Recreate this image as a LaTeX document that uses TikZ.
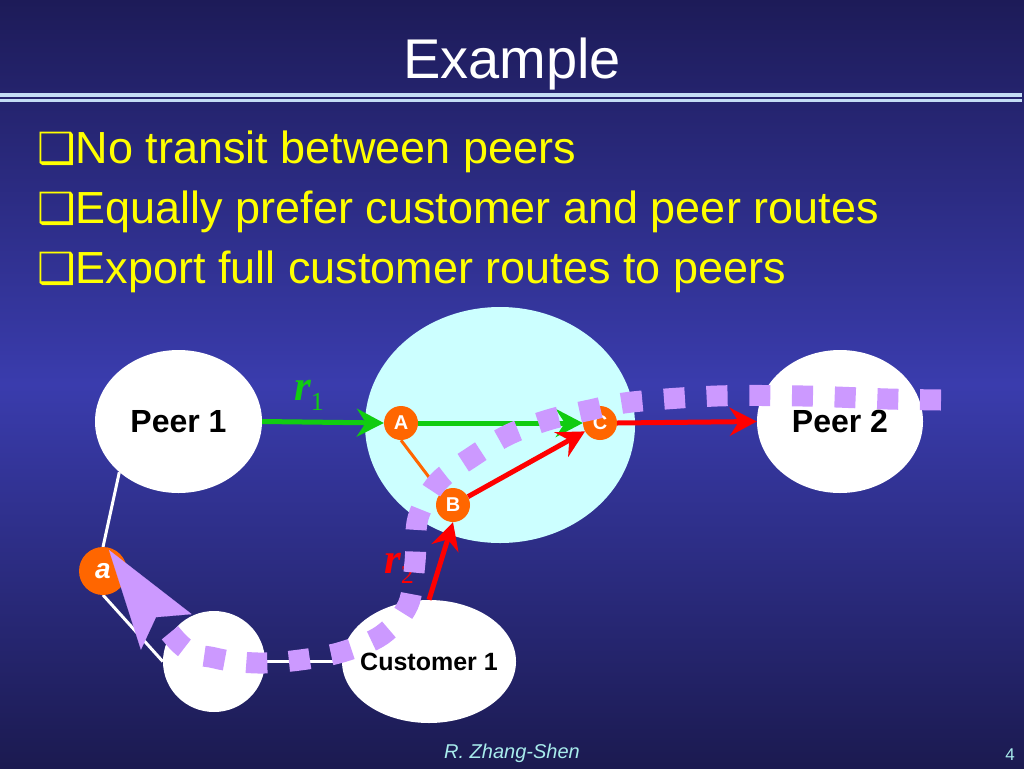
\documentclass[tikz,border=0pt]{standalone}
\usepackage{fontspec}
\setmainfont{Liberation Sans}
\newfontfamily\timesf{Liberation Serif}
\newfontfamily\dejavu{DejaVu Sans}
\usetikzlibrary{shapes.geometric,arrows.meta}
\definecolor{bgtop}{HTML}{1D1B58}
\definecolor{bgmid}{HTML}{3A3CAD}
\definecolor{bgbot}{HTML}{1B1A50}
\definecolor{rulecol}{HTML}{C4DDF5}
\definecolor{bulletyellow}{HTML}{FFFF00}
\definecolor{ascyan}{HTML}{CCFFFF}
\definecolor{nodeorange}{HTML}{FF6600}
\definecolor{routegreen}{HTML}{11CC11}
\definecolor{routered}{HTML}{FF0000}
\definecolor{pathpurple}{HTML}{CC99FF}
\definecolor{footcyan}{HTML}{A8ECEC}
\begin{document}
\begin{tikzpicture}[x=1pt,y=-1pt,
  cloudwhite/.style={ellipse, fill=white, inner sep=0pt, font=\bfseries\fontsize{32}{32}\selectfont},
  router/.style={circle, fill=nodeorange, inner sep=0pt, minimum size=34pt, text=white, font=\bfseries\fontsize{20}{20}\selectfont},
  bulletline/.style={anchor=base west, inner sep=0pt, text=bulletyellow, font=\fontsize{45}{54}\selectfont},
  greenarrow/.style={draw=routegreen, line width=5pt, -{Stealth[length=27pt,width=28pt,inset=9pt]}},
  redarrow/.style={draw=routered, line width=5pt, -{Stealth[length=27pt,width=28pt,inset=9pt]}},
  whiteline/.style={draw=white, line width=3pt},
  purplepath/.style={draw=pathpurple, line width=21pt, dash pattern=on 21pt off 21.7pt,
     -{Stealth[length=100pt,width=62pt,inset=18pt,line width=0.1pt]}}
]
\useasboundingbox (0,0) rectangle (1024,768);
\shade[top color=bgtop, bottom color=bgbot, middle color=bgmid] (0,0) rectangle (1024,768);
% title
\node[anchor=base, inner sep=0pt, text=white, font=\fontsize{56}{60}\selectfont] (title) at (512,78) {Example};
\draw[rulecol, line width=4pt] (0,95) -- (1022,95);
\draw[rulecol, line width=3pt] (0,100.5) -- (1022,100.5);
% bullets
\node[bulletline] (b1) at (37,163) {{\dejavu\fontsize{43}{43}\selectfont ❑}No transit between peers};
\node[bulletline] (b2) at (37,223) {{\dejavu\fontsize{43}{43}\selectfont ❑}Equally prefer customer and peer routes};
\node[bulletline] (b3) at (37,283) {{\dejavu\fontsize{43}{43}\selectfont ❑}Export full customer routes to peers};
% ASes
\node[ellipse, fill=ascyan, minimum width=270pt, minimum height=236pt] (as) at (500,425) {};
\node[cloudwhite, minimum width=167pt, minimum height=143pt] (p1) at (178.5,421.5) {Peer 1};
\node[cloudwhite, minimum width=166pt, minimum height=143pt] (p2) at (840,421.5) {Peer 2};
\node[cloudwhite, inner xsep=-12pt, minimum width=174pt, minimum height=123pt, font=\bfseries\fontsize{25}{25}\selectfont] (c1) at (429,661.5) {Customer 1};
\node[cloudwhite, minimum width=102pt, minimum height=101pt] (s) at (214,661.5) {};
% white links
\draw[whiteline] (p1.south west) -- (103,547) coordinate (atop);
\draw[whiteline] (103,595) coordinate (abot) -- (s.west);
\draw[whiteline] (s.east) -- (c1.west);
% routers
\node[router] (A) at (401,423) {A};
\node[router] (C) at (600,423) {C};
\node[router] (B) at (453,505) {B};
\node[router, minimum size=48pt, font=\bfseries\itshape\fontsize{28}{28}\selectfont] (a) at (103,571) {a};
% internal link
\draw[nodeorange, line width=3pt] (A.south) -- (B.north west);
% routes
\draw[greenarrow] (p1.east) -- (A.west);
\draw[greenarrow] (A.east) -- (C.west);
\draw[redarrow] (B) -- (C);
\draw[redarrow] (c1.north) -- (B.south);
\draw[redarrow] (C.east) -- (p2.west);
% labels
\node[anchor=base west, inner sep=0pt, text=routegreen] (r1) at (294,400)
  {\timesf\bfseries\itshape\fontsize{43}{43}\selectfont r\raisebox{-10pt}{\upshape\mdseries\fontsize{26}{26}\selectfont 1}};
\node[anchor=base west, inner sep=0pt, text=routered] (r2) at (384,573)
  {\timesf\bfseries\itshape\fontsize{43}{43}\selectfont r\raisebox{-10pt}{\upshape\mdseries\fontsize{26}{26}\selectfont 2}};
% purple route
\draw[purplepath] plot[smooth, tension=0.55] coordinates {(941,400) (888,399) (803,396) (717,396) (632,402) (590,410) (548,420) (508,435) (472,457) (438,482) (418,518) (415,562) (408,605) (382,635) (342,652) (300,660) (258,663) (215,658) (178,642) (109,550)};
% footer
\node[anchor=base, inner sep=0pt, text=footcyan, font=\itshape\fontsize{20}{20}\selectfont] (foot) at (512,758) {R. Zhang-Shen};
\node[anchor=base, inner sep=0pt, text=footcyan, font=\fontsize{17}{17}\selectfont] (pg) at (1010,760) {4};
\end{tikzpicture}
\end{document}
